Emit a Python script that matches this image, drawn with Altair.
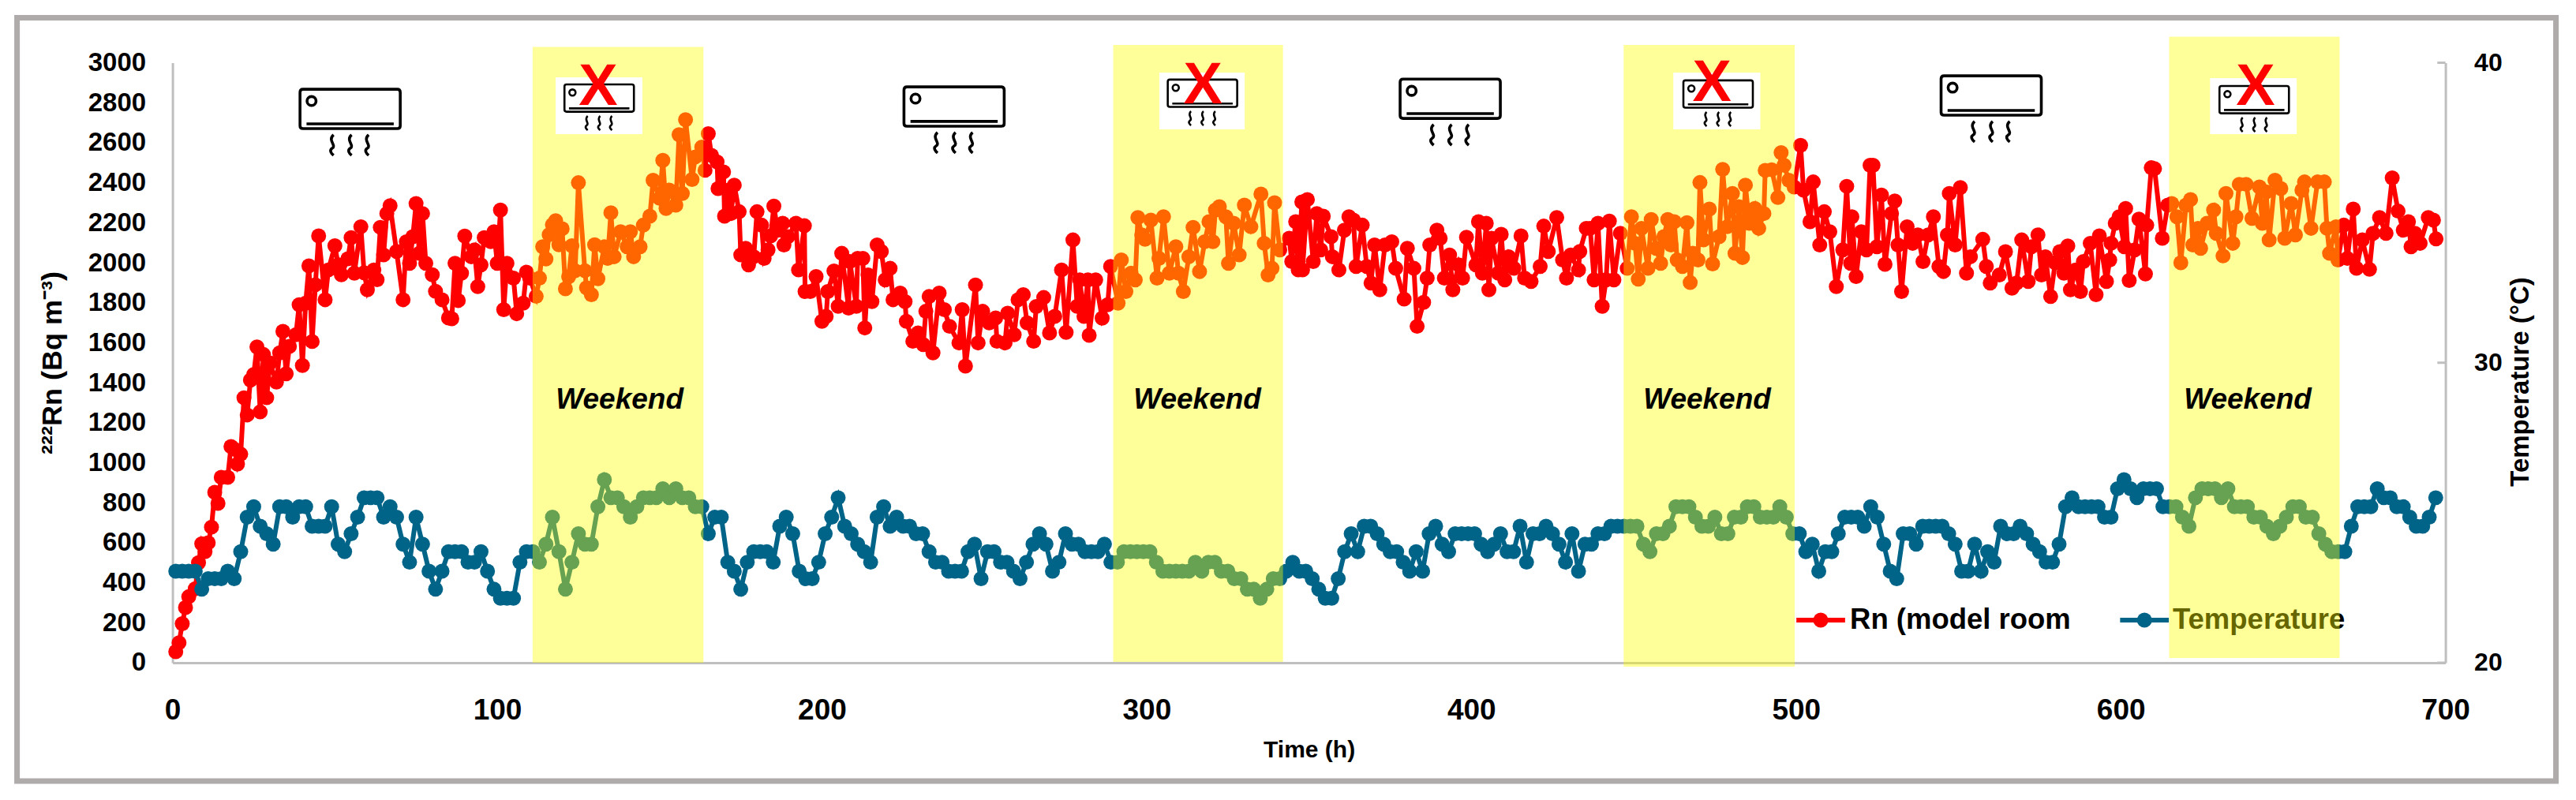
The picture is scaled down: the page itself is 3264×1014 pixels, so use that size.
import altair as alt
import pandas as pd

FONT = "Liberation Sans"

# (hour, Bq/m3) markers
rn_a = [(1,55),(2,100),(3,195),(4,276),(5,330),(7,370),(8,500),(9,595),(10,555),(11,600),(12,678),(13,852),(14,797),(15,927),(17,927),(18,1081),(19,1068),(20,993),(21,1043),(22,1325),(23,1239),(24,1413),(25,1441),(26,1579),(27,1254),(28,1541),(29,1325),(30,1499),(32,1403),(33,1549),(34,1657),(35,1445),(36,1582),(38,1640),(39,1790),(40,1486),(41,1798),(42,1984),(43,1606),(44,1890),(45,2134),(47,1815),(48,1964),(50,2085),(51,1990),(52,1940),(54,2020),(55,2125),(56,1948),(58,2180),(59,1950),(60,1865),(62,1964),(63,1915),(64,2177),(65,2039),(66,2246),(67,2285),(69,2056),(71,1815),(72,2105),(73,1997),(74,2130),(75,2296),(76,2047),(77,2246),(78,1997),(80,1940),(81,1857),(83,1815),(85,1724)]
rn_b = [(86,1720),(87,1997),(88,1811),(89,1948),(90,2133),(92,2030),(93,2064),(94,1881),(95,1989),(96,2125),(98,2105),(99,2155),(100,1997),(101,2263),(102,1765),(103,1997),(105,1923),(106,1745),(108,1798),(109,1953),(110,1923),(112,1832),(113,1923),(114,2080),(115,2019),(116,2140),(117,2190),(118,2210),(119,2090),(120,2170),(121,1870),(122,1930),(123,2085),(124,1960),(125,2400),(127,1960),(127.5,1875),(129,1840),(130,2090),(131,1920),(133,2080),(134,2022),(135,2250),(136,2030),(138,2155),(140,2080),(141,2155),(142,2030),(144,2080),(145,2188),(147,2233),(148,2412),(150,2322),(151,2512),(152,2271),(153,2363),(155,2288),(156,2640),(157,2346),(158,2715),(160,2416),(161,2529),(163,2578),(164,2462),(165,2645),(166,2537),(167.7,2504),(168,2371),(169.7,2454),(170,2233),(171.3,2363),(172,2246)]
rn_c = [(173,2388),(174.5,2255),(175,2039),(176.5,2072),(177.4,1989),(179,2030),(180,2255),(181.4,2188),(182.2,2022),(183.4,2064),(184.2,2134),(185.2,2283),(186.3,2163),(187.9,2197),(188.3,2089),(189.5,2130),(192,2197),(192.8,1964),(194.6,2185),(194.8,1856),(196.4,1856),(198.2,1931),(200,1707),(201.3,1732),(201.8,1856),(203.7,1959),(205,1782),(206.1,2047),(208.2,1773),(208.6,2006),(210.6,1782),(211,2022),(212.6,2022),(213.2,1674),(214.2,1939),(215.4,1806),(217,2089),(218.3,2056),(219.5,1914),(221,1972),(221.9,1815),(224.1,1848),(225.6,1806),(226,1707),(228,1607),(229.6,1649),(231.2,1591),(232,1757),(233,1831),(234.2,1549),(236.1,1848),(237.7,1765),(239.3,1682),(242.2,1599),(243.2,1765),(244.2,1483),(247.3,1889),(248.1,1599),(249.5,1757),(251.5,1699),(253.5,1724),(253.9,1607),(256.4,1599),(257.2,1748),(259.2,1640),(260.4,1815)]
rn_d = [(262,1840),(263.2,1699),(265.2,1607),(266,1781),(268.3,1826),(270.1,1649),(271.7,1732),(273.8,1964),(275.2,1652),(277.3,2114),(278.6,1782),(279.4,1914),(280.7,1732),(281.9,1914),(282.3,1637),(284.3,1914),(286.3,1723),(288,1790),(288.9,1981),(291.2,1798),(292.2,2014),(293.6,1856),(295.2,1948),(296.5,1914),(297.3,2226),(298.5,2139),(299.5,2117),(301.3,2213),(303.2,1923),(303.8,2022),(305.2,2230),(307,1948),(309,2080),(309.8,1948),(311.3,1856),(313,2030),(314.3,2177),(316.3,1956),(317.9,2105),(319.2,2205),(320.4,2105),(321.2,2263),(322.4,2280),(324.4,2230),(325.2,1997),(326.8,2197),(328.5,2039),(330.1,2288),(332.1,2180),(335.2,2343),(336.2,2097),(337.4,1939),(338.6,1972),(339.4,2300),(341,2064),(343.9,2122),(344.7,2006),(345.9,2205),(346.7,1964),(347.8,2304)]
rn_e = [(348,1964),(349.5,2316),(351.3,2006),(352.4,2246),(353.6,2064),(354.4,2233),(356.8,2130),(357.2,2030),(359.2,1964),(360.9,2163),(362.3,2230),(363.7,2213),(364.5,1981),(366.4,2188),(367.8,1981),(369.1,1898),(370.2,2089),(371.8,1865),(373.4,2089),(375.5,2105),(376.7,1972),(379.3,1818),(380.3,2072),(382.3,1972),(383.3,1682),(385.3,1802),(386.4,1923),(387.2,2089),(389.4,2163),(390.4,2122),(391.7,1923),(393.3,2039),(394.3,1865),(396.1,1989),(397.3,1923),(398.5,2127),(401.4,1989),(402.2,2205),(403.4,1948),(404.6,2197),(405.4,1865),(406.2,2122),(408.3,1948),(409.2,2142),(410.3,1914),(411.5,2030),(413.1,1972),(415.3,2134),(416.4,1923),(418.4,1906),(421.2,1981),(422.3,2183),(423.7,2056),(426.3,2226),(428.1,2014),(429.3,1923),(430.6,2039),(433,1964),(433.4,2056),(435.4,2172)]
rn_f = [(436.6,2172),(437.8,1914),(439,2197),(440.3,1782),(441.5,1914),(442.5,2208),(443.9,1914),(445.9,2147),(448,1972),(449.3,2230),(450.4,2097),(451.4,1918),(452.4,2172),(454.4,1972),(455.4,2216),(456.9,2072),(458.3,1997),(459.3,2130),(460.5,2216),(461.5,2089),(462.5,2205),(463.4,2014),(465,1981),(466.4,2200),(467.4,1901),(468.2,2047),(469.8,2014),(470.4,2401),(471.5,2114),(473.3,2268),(474.3,1994),(476.3,2130),(477.4,2467),(478.8,2180),(480.4,2346),(481.2,2047),(482.4,2280),(483.5,2026),(484.4,2388),(485.6,2197),(487.3,2271),(488.5,2172),(490.1,2246),(490.5,2462),(492.5,2465),(494.4,2326),(495.4,2550),(496.3,2487),(497.8,2412),(499.4,2379),(501.4,2587),(502.3,2363),(504.3,2205),(505.3,2404),(507.3,2089),(508.7,2255),(510.4,2155),(512.4,1881),(514.4,2064),(515.6,2382),(516.8,1997),(517.2,2230),(518.5,1931),(520.1,2155),(521.7,2064),(522.8,2487)]
rn_g = [(523.7,2487),(524.9,2080),(526.3,2338),(527.4,1992),(529.4,2246),(530.4,2309),(531.4,2089),(532.5,1856),(534.2,2180),(535.9,2097),(537.5,2139),(539.1,2006),(540.7,2139),(542.3,2230),(544,1981),(545.4,1956),(546.6,2139),(547.2,2346),(549,2089),(550.6,2376),(552.5,1948),(553.7,2030),(557.5,2117),(558.6,1981),(559.8,1898),(562.6,1939),(564.5,2055),(566.5,1873),(567.9,1898),(569.5,2114),(571.5,1906),(572.5,2080),(574.5,2139),(575.6,1939),(576.8,2030),(578.4,1831),(579.8,2000),(581.2,2055),(582.5,1948),(583.7,2084),(584.5,1865),(586.1,1964),(587.6,1856),(588.5,2006),(590.6,2097),(592.4,1840),(593.4,2134),(595.6,1906),(596.6,2014),(597,2097),(598.3,2197),(599.5,2230),(601.1,2080),(601.5,2271),(602.6,1911),(604.3,2064),(605.6,2218),(607.6,1944),(608,2188),(609.4,2475)]
rn_h = [(610.4,2470),(612.8,2122),(614.5,2288),(615.7,2296),(617.3,2230),(618.5,2000),(620.1,2288),(621.5,2316),(622.2,2089),(623.8,2172),(624.6,2072),(626.6,2197),(628.6,2263),(629.4,2147),(631.5,2034),(632.4,2346),(634.5,2097),(635.5,2230),(636.5,2392),(638.6,2392),(640.4,2222),(642.7,2379),(643.6,2197),(644.8,2354),(645.7,2114),(647.5,2412),(649.3,2371),(650.5,2122),(652.5,2296),(653.8,2139),(655.8,2363),(656.6,2404),(658.6,2172),(660.6,2404),(662.7,2404),(663.5,2172),(664.3,2047),(666.3,2180),(666.9,2014),(668.7,2188),(669.8,2022),(671.6,2268),(672.6,1972),(674.4,2114),(676.6,1967),(677.7,2147),(679.7,2226),(681.7,2147),(683.6,2424),(685.4,2258),(687,2163),(688.6,2205),(689.4,2080),(690.6,2147),(692.2,2097),(694.7,2226),(696.3,2213),(697.1,2119)]
rn_readings = rn_a + rn_b + rn_c + rn_d + rn_e + rn_f + rn_g + rn_h

# Temperature (deg C) markers, one every two hours from hour 1
temp_a = [23.05,23.05,23.05,23.05,22.45,22.8,22.8,22.8,23.05,22.8,23.7,24.85,25.2,24.55,24.3,23.95,25.2,25.2,24.85,25.2,25.2,24.55,24.55,24.55,25.2,23.95,23.7,24.3,24.85,25.5,25.5,25.5,24.85,25.2,24.85,23.95,23.35,24.85,23.95,23.05,22.45,23.05,23.7]
temp_b = [23.7,23.7,23.35,23.35,23.7,23.05,22.45,22.15,22.15,22.15,23.35,23.7,23.7,23.35,23.95,24.85,23.7,22.45,23.35,24.3,23.95,23.95,25.2,26.1,25.5,25.5,25.2,24.85,25.2,25.5,25.5,25.5,25.8,25.5,25.8,25.5,25.5,25.2,25.2,24.3,24.85,24.85,23.35,23.05]
temp_c = [22.45,23.35,23.7,23.7,23.7,23.35,24.55,24.85,24.3,23.05,22.8,22.8,23.35,24.3,24.85,25.5,24.55,24.3,23.95,23.7,23.35,24.85,25.2,24.55,24.85,24.55,24.55,24.3,24.3,23.7,23.35,23.35,23.05,23.05,23.05,23.7,23.95,22.8,23.7,23.7,23.35,23.35,23.05]
temp_d = [22.8,23.35,23.95,24.3,23.95,23.05,23.35,24.3,23.95,23.95,23.7,23.7,23.7,23.95,23.35,23.35,23.7,23.7,23.7,23.7,23.7,23.35,23.05,23.05,23.05,23.05,23.05,23.35,23.05,23.35,23.35,23.05,23.05,22.8,22.8,22.45,22.45,22.15,22.45,22.8,22.8,23.05,23.35]
temp_e = [23.05,23.05,22.8,22.45,22.15,22.15,22.8,23.7,24.3,23.7,24.55,24.55,24.3,23.95,23.7,23.7,23.35,23.05,23.7,23.05,24.3,24.55,23.95,23.7,24.3,24.3,24.3,24.3,23.95,23.7,23.95,24.3,23.7,23.7,24.55,23.35,24.3,24.3,24.55,24.3,23.95,23.35,24.3,23.05,23.95]
temp_f = [23.95,24.3,24.3,24.55,24.55,24.55,24.55,24.55,23.95,23.7,24.3,24.3,24.55,25.2,25.2,25.2,24.85,24.55,24.55,24.85,24.3,24.3,24.85,24.85,25.2,25.2,24.85,24.85,24.85,25.2,24.85,24.3,24.3,23.7,23.95,23.05,23.7,23.7,24.3,24.85,24.85,24.85,24.55]
temp_g = [25.2,24.85,23.95,23.05,22.8,24.3,24.3,23.95,24.55,24.55,24.55,24.55,24.3,23.95,23.05,23.05,23.95,23.05,23.7,23.35,24.55,24.3,24.3,24.55,24.3,23.95,23.7,23.35,23.35,23.95,25.2,25.5,25.2,25.2,25.2,25.2,24.85,24.85,25.8,26.1,25.8,25.5,25.8,25.8]
temp_h = [25.8,25.2,25.2,25.2,24.85,24.55,25.5,25.8,25.8,25.8,25.5,25.8,25.2,25.2,25.2,24.85,24.85,24.55,24.3,24.55,24.85,25.2,25.2,24.85,24.85,24.3,23.95,23.7,23.7,23.7,24.55,25.2,25.2,25.2,25.8,25.5,25.5,25.2,25.2,24.85,24.55,24.55,24.85,25.5]
temp_values = temp_a + temp_b + temp_c + temp_d + temp_e + temp_f + temp_g + temp_h
temp_hours = [1 + 2 * i for i in range(len(temp_values))]

x_ticks = [0, 100, 200, 300, 400, 500, 600, 700]
y_ticks = list(range(0, 3001, 200))
right_ticks = [20, 30, 40]

band_start = [110.9, 289.7, 446.9, 614.9]
band_end = [163.5, 342.0, 499.6, 667.4]
band_top = [3079, 3089, 3089, 3130]
band_bottom = [0, 4, -20, 24]
weekend_x = [137.7, 315.6, 472.6, 639.1]
weekend_y = [1270, 1270, 1270, 1270]

on_icon_x = [54.7, 240.7, 393.5, 560.1]
on_icon_y = [2702, 2714, 2753, 2769]
off_icon_x = [131.4, 317.2, 476.0, 641.1]
off_icon_y = [2777, 2801, 2797, 2769]
patch_x0 = [118.0, 303.9, 462.2, 627.5]
patch_x1 = [144.7, 330.2, 489.0, 654.2]
patch_y0 = [2927, 2951, 2951, 2923]
patch_y1 = [2643, 2667, 2667, 2643]
cross_x = [131.1, 317.3, 474.1, 641.5]
cross_y = [2789, 2797, 2809, 2789]

legend_rule_x0 = [500.1, 599.8]
legend_rule_x1 = [515.1, 614.8]
legend_dot_x = [507.6, 607.3]
legend_y = [213, 213]
legend_text_x = [516.6, 616.0]
legend_names = ["Rn (model room", "Temperature"]
legend_colors = ["#FF0000", "#006488"]

AC_PATH = (
    "M-0.94,-0.66 H0.94 Q1,-0.66 1,-0.6 V0.07 Q1,0.126 0.94,0.126 H-0.94 Q-1,0.126 -1,0.07 V-0.6 Q-1,-0.66 -0.94,-0.66 Z "
    "M-0.86,-0.425 a0.09,0.09 0 1,0 0.18,0 a0.09,0.09 0 1,0 -0.18,0 Z "
    "M-0.87,0.03 H0.87 "
    "M-0.33,0.25 C-0.46,0.36 -0.26,0.46 -0.36,0.52 C-0.42,0.56 -0.38,0.62 -0.33,0.66 "
    "M0.03,0.25 C-0.1,0.36 0.1,0.46 0,0.52 C-0.06,0.56 -0.02,0.62 0.03,0.66 "
    "M0.37,0.25 C0.24,0.36 0.44,0.46 0.34,0.52 C0.28,0.56 0.32,0.62 0.37,0.66"
)

rn_df = pd.DataFrame(rn_readings, columns=["t", "v"])
temp_df = pd.DataFrame({"t": temp_hours, "v": temp_values})
bands_df = pd.DataFrame({"a": band_start, "b": band_end, "top": band_top, "bot": band_bottom})
weekend_df = pd.DataFrame({"x": weekend_x, "y": weekend_y, "s": ["Weekend"] * 4})
on_df = pd.DataFrame({"x": on_icon_x, "y": on_icon_y})
off_df = pd.DataFrame({"x": off_icon_x, "y": off_icon_y})
patch_df = pd.DataFrame({"a": patch_x0, "b": patch_x1, "top": patch_y0, "bot": patch_y1})
cross_df = pd.DataFrame({"x": cross_x, "y": cross_y, "s": ["X"] * 4})
leg_df = pd.DataFrame({"a": legend_rule_x0, "b": legend_rule_x1, "d": legend_dot_x, "y": legend_y,
                       "tx": legend_text_x, "s": legend_names, "c": legend_colors})
rtick_df = pd.DataFrame({"a": [697.5] * 3, "b": [700] * 3, "y": right_ticks})

XS = alt.Scale(domain=[0, 700], nice=False)
LS = alt.Scale(domain=[0, 3000], nice=False)
RS = alt.Scale(domain=[20, 40], nice=False)

GRAY = "#BFBFBF"
x_axis = alt.Axis(values=x_ticks, title="Time (h)", grid=False, ticks=False, domainColor=GRAY, domainWidth=3,
                  labelFont=FONT, labelFontSize=37, labelFontWeight="bold", labelColor="black", labelPadding=43,
                  labelFlush=False, titleFont=FONT, titleFontSize=30, titleFontWeight="bold", titleColor="black",
                  titlePadding=17, format="d")
left_axis = alt.Axis(values=y_ticks, title="²²²Rn (Bq m⁻³)", grid=False, ticks=False, domainColor=GRAY, domainWidth=3,
                     labelFont=FONT, labelFontSize=33, labelFontWeight="bold", labelColor="black", labelPadding=34,
                     titleFont=FONT, titleFontSize=36, titleFontWeight="bold", titleColor="black", titleX=-152,
                     titleY=380, titleBaseline="middle", format="d")
right_axis = alt.Axis(values=right_ticks, title="Temperature (°C)", orient="right", grid=False, ticks=False,
                      domainColor=GRAY, domainWidth=3, labelFont=FONT, labelFontSize=32, labelFontWeight="bold",
                      labelColor="black", labelPadding=36, titleFont=FONT, titleFontSize=33, titleFontWeight="bold",
                      titleColor="black", titleAngle=270, titleX=95, titleY=404, titleBaseline="middle", format="d")


def X(f):
    return alt.X(f, type="quantitative", scale=XS, axis=x_axis, title="Time (h)")


def YL(f):
    return alt.Y(f, type="quantitative", scale=LS, axis=None)


def YR(f):
    return alt.Y(f, type="quantitative", scale=RS, axis=None)


SIZE = 360
LW = 6

frame = alt.Chart(pd.DataFrame({"k": [0]})).mark_rect(fill="transparent", stroke="#AFABAB", strokeWidth=7).encode(
    x=alt.value(-197), x2=alt.value(3020), y=alt.value(-57), y2=alt.value(910.5))

rn_line = alt.Chart(rn_df).mark_line(color="#FF0000", strokeWidth=LW).encode(
    x=X("t"), y=alt.Y("v:Q", scale=LS, axis=left_axis))
rn_pts = alt.Chart(rn_df).mark_point(color="#FF0000", filled=True, opacity=1, size=SIZE).encode(x=X("t"), y=YL("v"))
temp_line = alt.Chart(temp_df).mark_line(color="#006488", strokeWidth=LW).encode(
    x=X("t"), y=alt.Y("v:Q", scale=RS, axis=right_axis))
temp_pts = alt.Chart(temp_df).mark_point(color="#006488", filled=True, opacity=1, size=SIZE).encode(x=X("t"), y=YR("v"))

rticks = alt.Chart(rtick_df).mark_rule(color=GRAY, strokeWidth=3).encode(x=X("a"), x2="b:Q", y=YR("y"))

leg_rule = alt.Chart(leg_df).mark_rule(strokeWidth=LW).encode(
    x=X("a"), x2="b:Q", y=YL("y"), color=alt.Color("c:N", scale=None))
leg_dot = alt.Chart(leg_df).mark_point(filled=True, opacity=1, size=SIZE).encode(
    x=X("d"), y=YL("y"), color=alt.Color("c:N", scale=None))
leg_text = alt.Chart(leg_df).mark_text(font=FONT, fontSize=36.5, fontWeight="bold", color="black", align="left",
                                       baseline="middle").encode(x=X("tx"), y=YL("y"), text="s:N")

bands = alt.Chart(bands_df).mark_rect(color="#FFFF00", opacity=0.4).encode(
    x=X("a"), x2="b:Q", y=YL("top"), y2="bot:Q")
patches = alt.Chart(patch_df).mark_rect(color="white", opacity=1).encode(
    x=X("a"), x2="b:Q", y=YL("top"), y2="bot:Q")
on_icons = alt.Chart(on_df).mark_point(shape=AC_PATH, filled=False, stroke="black", strokeWidth=3.6, opacity=1,
                                       size=16129).encode(x=X("x"), y=YL("y"))
off_icons = alt.Chart(off_df).mark_point(shape=AC_PATH, filled=False, stroke="black", strokeWidth=2.6, opacity=1,
                                         size=7744).encode(x=X("x"), y=YL("y"))
crosses = alt.Chart(cross_df).mark_text(font=FONT, fontSize=74, fontWeight="bold", color="#FF0000", align="center",
                                        baseline="alphabetic").encode(x=X("x"), y=YL("y"), text="s:N")
weekend = alt.Chart(weekend_df).mark_text(font=FONT, fontSize=37, fontWeight="bold", fontStyle="italic", color="black",
                                          align="center", baseline="alphabetic").encode(x=X("x"), y=YL("y"), text="s:N")

chart = alt.layer(
    frame, rn_line, rn_pts, temp_line, temp_pts, rticks, leg_rule, leg_dot, leg_text,
    bands, patches, on_icons, off_icons, crosses, weekend,
).resolve_scale(y="independent", color="independent").properties(
    width=2880, height=760.5,
    padding={"left": 210.6, "top": 71.5, "right": 150, "bottom": 158},
    autosize=alt.AutoSizeParams(type="none"),
    background="white",
).configure_view(stroke=None)

chart.save("out.html", embed_options={"renderer": "svg", "actions": False})
